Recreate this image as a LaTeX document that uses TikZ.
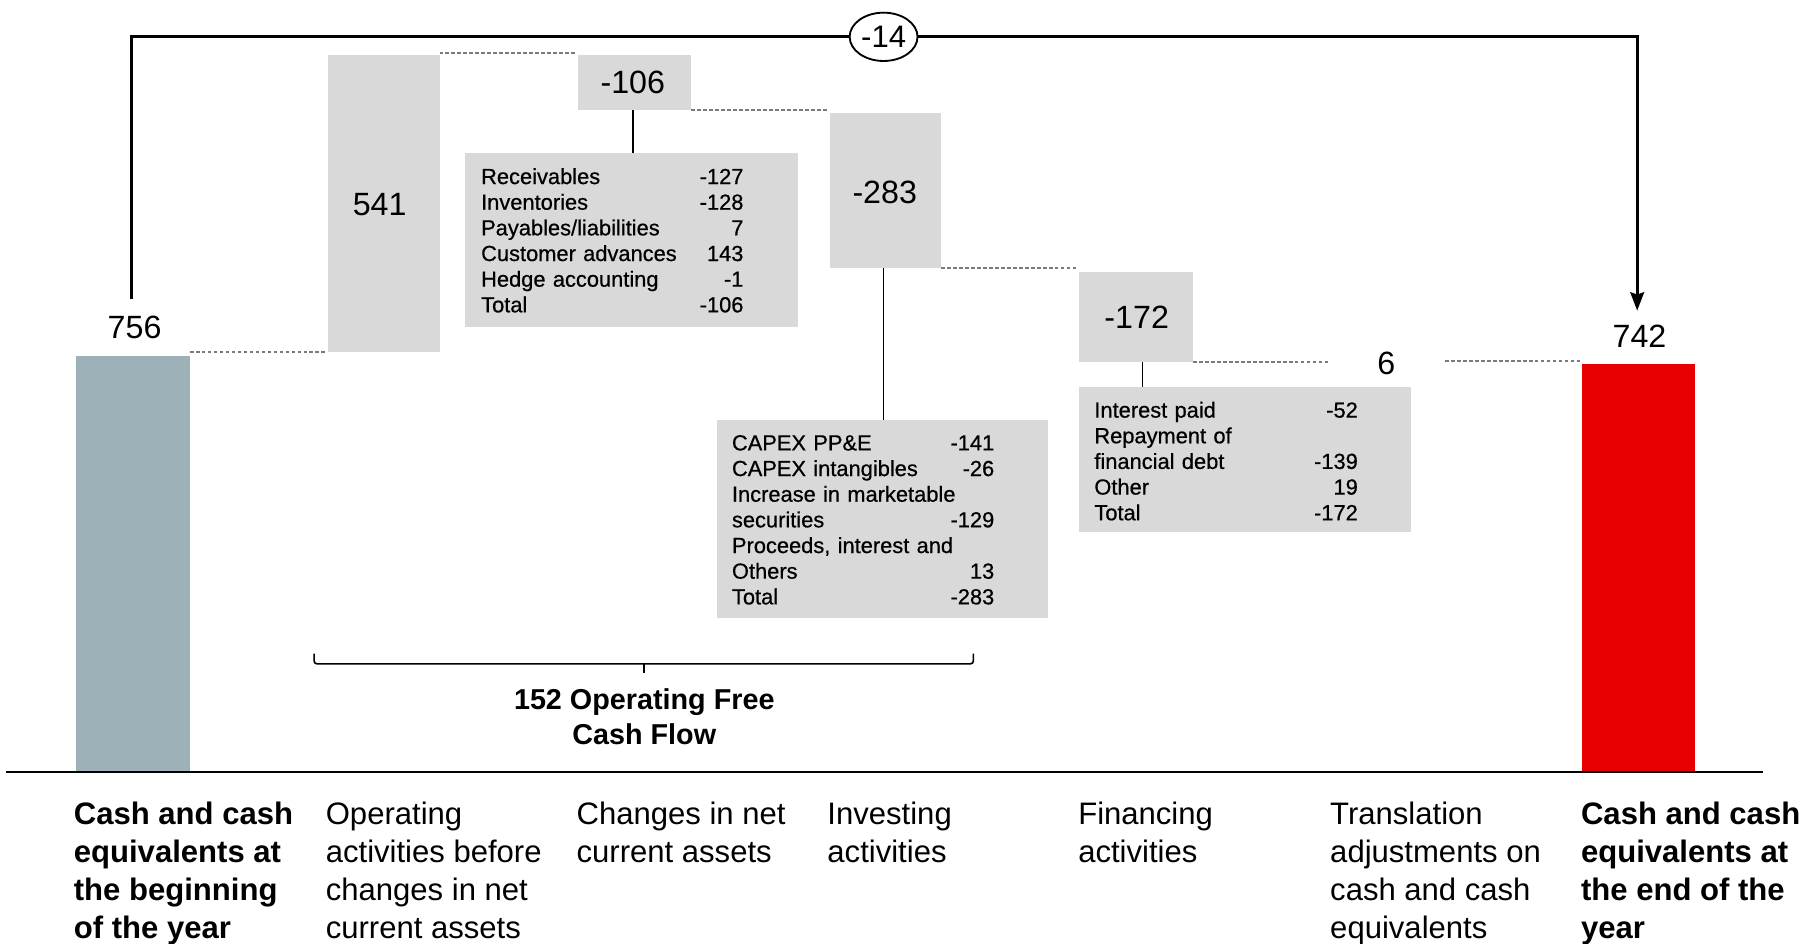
\documentclass[tikz,border=0pt]{standalone}
\usepackage{fontspec}
\setmainfont{Liberation Sans}
\newfontfamily\medfont{Liberation Sans}[FakeBold=0.6]
\usetikzlibrary{arrows.meta,shapes.geometric}
\definecolor{boxgray}{HTML}{D9D9D9}
\definecolor{steel}{HTML}{9DB1B9}
\definecolor{cashred}{HTML}{E80000}
\definecolor{dashgray}{HTML}{7A7A7A}
\begin{document}
\begin{tikzpicture}[x=1pt,y=-1pt,
  barbox/.style={fill=#1, draw=none, inner sep=0pt, outer sep=0pt},
  val/.style={font=\fontsize{28}{32}\selectfont, inner sep=0pt},
  dtext/.style={font=\medfont\fontsize{19}{22.3}\selectfont, inner sep=0pt, align=left, text width=228pt, anchor=north west},
  cat/.style={font=\fontsize{27}{33}\selectfont, inner sep=0pt, align=left, anchor=north west},
  dsh/.style={draw=dashgray, line width=1.7pt, dash pattern=on 3.2pt off 2pt},
  conn/.style={draw=black, line width=1.5pt},
  topline/.style={draw=black, line width=2.4pt}]
\useasboundingbox (0,0) rectangle (1568,820);

% bars
\node[barbox=steel, minimum width=99pt, minimum height=361pt] (b0) at (115.5,489.5) {};
\node[barbox=boxgray, minimum width=97pt, minimum height=258pt] (b1) at (333.5,177) {};
\node[barbox=boxgray, minimum width=99pt, minimum height=48pt] (m1) at (551.5,72) {};
\node[barbox=boxgray, minimum width=97pt, minimum height=135pt] (b2) at (769.5,165.5) {};
\node[barbox=boxgray, minimum width=99pt, minimum height=79pt] (m3) at (987.5,275.5) {};
\node[barbox=cashred, minimum width=98pt, minimum height=354pt] (b6) at (1424,493) {};

% value labels
\node[val] (v0) at (117,285) {756};
\node[val] (v1) at (330,178) {541};
\node[val] (v2) at (550,72) {-106};
\node[val] (v3) at (769,167) {-283};
\node[val] (v4) at (988,276) {-172};
\node[val] (v5) at (1205,316) {6};
\node[val] (v6) at (1425,292) {742};

% detail boxes
\node[barbox=boxgray, minimum width=290pt, minimum height=151pt] (d1) at (549,208.5) {};
\node[barbox=boxgray, minimum width=288pt, minimum height=172pt] (d2) at (767,451) {};
\node[barbox=boxgray, minimum width=288pt, minimum height=126pt] (d3) at (1082,399) {};

\node[dtext] (t1) at (418,146) {Receivables\hfill -127\\Inventories\hfill -128\\Payables/liabilities\hfill 7\\Customer advances\hfill 143\\Hedge accounting\hfill -1\\Total\hfill -106};
\node[dtext] (t2) at (636,378) {CAPEX PP\&E\hfill -141\\CAPEX intangibles\hfill -26\\Increase in marketable\\securities\hfill -129\\Proceeds, interest and\\Others\hfill 13\\Total\hfill -283};
\node[dtext, text width=229pt] (t3) at (951,349) {Interest paid\hfill -52\\Repayment of\\financial debt\hfill -139\\Other\hfill 19\\Total\hfill -172};

% connectors to detail boxes
\draw[conn] ([xshift=-1.5pt]m1.south) -- ([xshift=-1.5pt]m1.south |- d1.north);
\draw[conn] ([xshift=-1.5pt]b2.south) -- ([xshift=-1.5pt]b2.south |- d2.north);
\draw[conn] ([xshift=5.5pt]m3.south) -- ([xshift=5.5pt]m3.south |- d3.north);

% dashed links
\coordinate (g6l) at (1155,315);
\coordinate (g6r) at (1256,314);
\draw[dsh] (b1.south west -| b0.east) -- ([xshift=-2pt]b1.south west);
\draw[dsh] ([yshift=2pt]b1.north east) -- ([xshift=-2pt,yshift=2pt]m1.north west);
\draw[dsh] (m1.south east) -- ([xshift=-2pt]m1.south east -| b2.west);
\draw[dsh] (b2.south east) -- ([xshift=-2pt]b2.south east -| m3.west);
\draw[dsh] (m3.south east) -- (g6l);
\draw[dsh] (g6r) -- ([xshift=-2pt]g6r -| b6.west);

% top connector
\node[ellipse, draw, line width=1.6pt, minimum width=59pt, minimum height=42pt, inner sep=0pt, font=\fontsize{27}{30}\selectfont] (e14) at (768,32) {-14};
\coordinate (tl) at (114,260);
\coordinate (tr) at (1423,270);
\draw[topline] (tl) |- (e14.west);
\draw[topline, -{Stealth[length=16pt,width=12pt,inset=2pt]}] (e14.east) -| (tr);

% axis
\coordinate (axl) at (5,671);
\coordinate (axr) at (1532,671);
\draw[line width=1.8pt] (axl) -- (axr);

% brace
\coordinate (brl) at (273,568);
\coordinate (brr) at (846,568);
\coordinate (brm) at (560,577);
\draw[line width=1.4pt, rounded corners=2.5pt] (brl) -- (brl |- brm) -- (brr |- brm) -- (brr);
\draw[line width=1.4pt] (brm) -- ++(0,8);
\node[font=\bfseries\fontsize{25}{31}\selectfont, align=center, inner sep=0pt, anchor=north] (ofcf) at (560,598) {152 Operating Free\\Cash Flow};

% category labels
\node[cat, font=\bfseries\fontsize{27}{33}\selectfont] (c0) at (64,697) {Cash and cash\\equivalents at\\the beginning\\of the year};
\node[cat] (c1) at (283,697) {Operating\\activities before\\changes in net\\current assets};
\node[cat] (c2) at (501,697) {Changes in net\\current assets};
\node[cat] (c3) at (719,697) {Investing\\activities};
\node[cat] (c4) at (937,697) {Financing\\activities};
\node[cat] (c5) at (1156,697) {Translation\\adjustments on\\cash and cash\\equivalents};
\node[cat, font=\bfseries\fontsize{27}{33}\selectfont] (c6) at (1374,697) {Cash and cash\\equivalents at\\the end of the\\year};
\end{tikzpicture}
\end{document}
